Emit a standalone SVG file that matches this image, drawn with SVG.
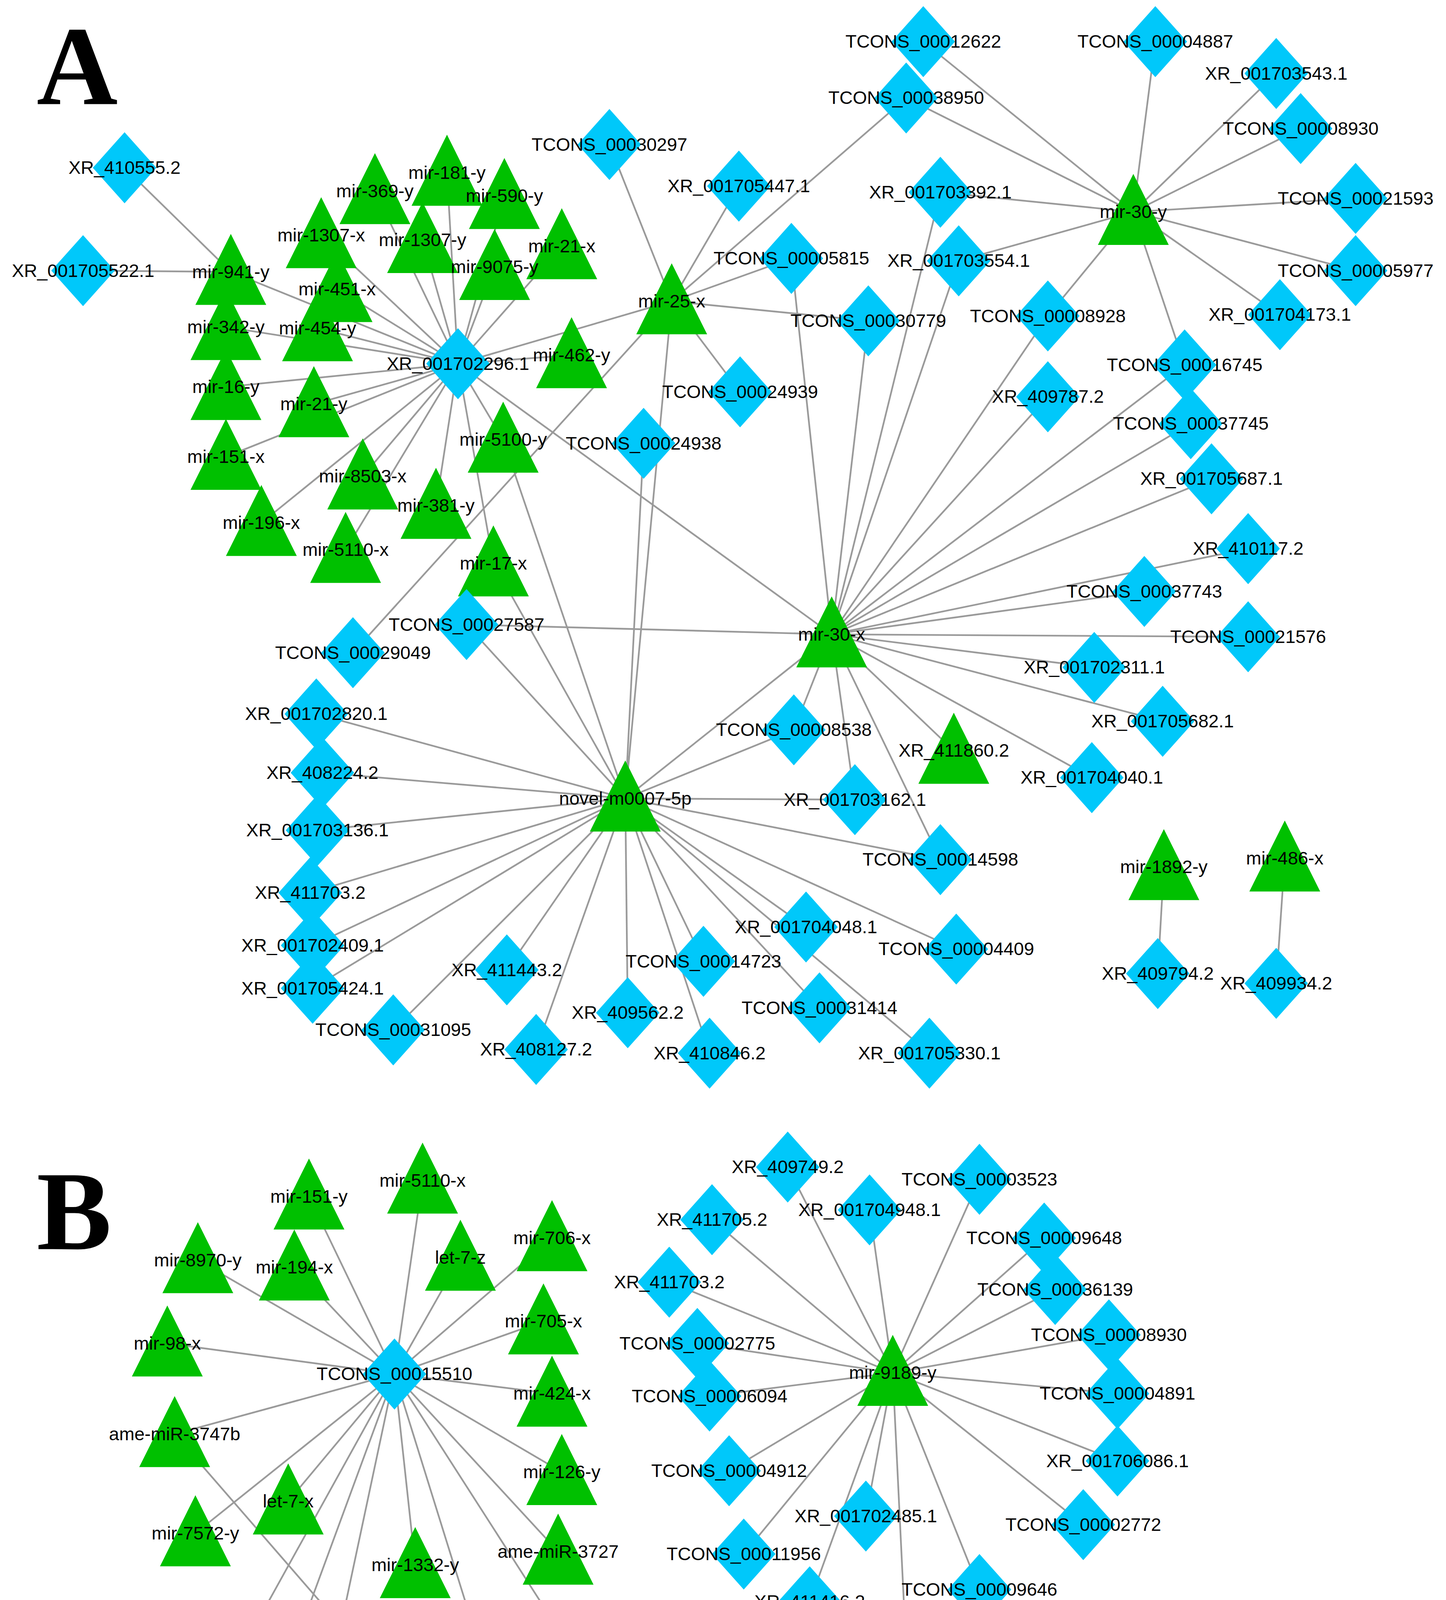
<svg xmlns="http://www.w3.org/2000/svg" width="3703" height="4916" viewBox="0 0 3703 4916">
<style>
.e line{stroke:#9a9a9a;stroke-width:1.4}
.d{fill:#00C8FA}
.t{fill:#00C000}
text{font-family:"Liberation Sans",Arial,sans-serif;font-size:15px;fill:#000;text-anchor:middle}
.big{font-family:"Liberation Serif","Times New Roman",serif;font-size:92px;font-weight:bold;text-anchor:start}
</style>
<defs>
<polygon id="tri" class="t" points="0,-31 -29,27 29,27"/>
<polygon id="dia" class="d" points="0,-29 26,0 0,29 -26,0"/>
</defs>
<rect width="3703" height="4916" fill="#fff"/>
<g transform="scale(3.1275 3.135)">
<text class="big" x="30" y="85">A</text>
<text class="big" x="30" y="1020">B</text>
<g class="e">
<line x1="102" y1="137" x2="189" y2="222"/><line x1="68" y1="221" x2="189" y2="222"/>
<line x1="375" y1="297" x2="189" y2="222"/><line x1="375" y1="297" x2="185" y2="267"/><line x1="375" y1="297" x2="185" y2="316"/><line x1="375" y1="297" x2="185" y2="373"/><line x1="375" y1="297" x2="214" y2="427"/><line x1="375" y1="297" x2="263" y2="192"/><line x1="375" y1="297" x2="307" y2="156"/><line x1="375" y1="297" x2="366" y2="141"/><line x1="375" y1="297" x2="413" y2="160"/><line x1="375" y1="297" x2="346" y2="196"/><line x1="375" y1="297" x2="405" y2="218"/><line x1="375" y1="297" x2="460" y2="201"/><line x1="375" y1="297" x2="276" y2="236"/><line x1="375" y1="297" x2="260" y2="268"/><line x1="375" y1="297" x2="257" y2="330"/><line x1="375" y1="297" x2="297" y2="389"/><line x1="375" y1="297" x2="283" y2="449"/><line x1="375" y1="297" x2="357" y2="413"/><line x1="375" y1="297" x2="412" y2="359"/><line x1="375" y1="297" x2="404" y2="460"/><line x1="375" y1="297" x2="468" y2="290"/><line x1="375" y1="297" x2="550" y2="246"/><line x1="375" y1="297" x2="681" y2="518"/>
<line x1="550" y1="246" x2="289" y2="533"/><line x1="412" y1="359" x2="512" y2="652"/>
<line x1="550" y1="246" x2="499" y2="118"/><line x1="550" y1="246" x2="605" y2="152"/><line x1="550" y1="246" x2="742" y2="80"/><line x1="550" y1="246" x2="648" y2="211"/><line x1="550" y1="246" x2="711" y2="262"/><line x1="550" y1="246" x2="606" y2="320"/><line x1="550" y1="246" x2="512" y2="652"/><line x1="527" y1="362" x2="512" y2="652"/>
<line x1="928" y1="173" x2="756" y2="34"/><line x1="928" y1="173" x2="946" y2="34"/><line x1="928" y1="173" x2="1045" y2="60"/><line x1="928" y1="173" x2="742" y2="80"/><line x1="928" y1="173" x2="1065" y2="105"/><line x1="928" y1="173" x2="1110" y2="162"/><line x1="928" y1="173" x2="770" y2="157"/><line x1="928" y1="173" x2="785" y2="213"/><line x1="928" y1="173" x2="1110" y2="221"/><line x1="928" y1="173" x2="1048" y2="257"/><line x1="928" y1="173" x2="970" y2="298"/><line x1="928" y1="173" x2="858" y2="258"/>
<line x1="681" y1="518" x2="858" y2="258"/><line x1="681" y1="518" x2="770" y2="157"/><line x1="681" y1="518" x2="785" y2="213"/><line x1="681" y1="518" x2="648" y2="211"/><line x1="681" y1="518" x2="711" y2="262"/><line x1="681" y1="518" x2="970" y2="298"/><line x1="681" y1="518" x2="858" y2="324"/><line x1="681" y1="518" x2="975" y2="346"/><line x1="681" y1="518" x2="992" y2="391"/><line x1="681" y1="518" x2="1022" y2="448"/><line x1="681" y1="518" x2="937" y2="483"/><line x1="681" y1="518" x2="1022" y2="520"/><line x1="681" y1="518" x2="896" y2="545"/><line x1="681" y1="518" x2="952" y2="589"/><line x1="681" y1="518" x2="894" y2="635"/><line x1="681" y1="518" x2="781" y2="613"/><line x1="681" y1="518" x2="770" y2="702"/><line x1="681" y1="518" x2="700" y2="653"/><line x1="681" y1="518" x2="650" y2="596"/><line x1="681" y1="518" x2="512" y2="652"/><line x1="681" y1="518" x2="382" y2="510"/>
<line x1="512" y1="652" x2="382" y2="510"/><line x1="512" y1="652" x2="404" y2="460"/><line x1="512" y1="652" x2="259" y2="583"/><line x1="512" y1="652" x2="264" y2="631"/><line x1="512" y1="652" x2="260" y2="678"/><line x1="512" y1="652" x2="254" y2="729"/><line x1="512" y1="652" x2="256" y2="772"/><line x1="512" y1="652" x2="256" y2="807"/><line x1="512" y1="652" x2="322" y2="841"/><line x1="512" y1="652" x2="415" y2="792"/><line x1="512" y1="652" x2="439" y2="857"/><line x1="512" y1="652" x2="514" y2="827"/><line x1="512" y1="652" x2="576" y2="785"/><line x1="512" y1="652" x2="581" y2="860"/><line x1="512" y1="652" x2="660" y2="757"/><line x1="512" y1="652" x2="671" y2="823"/><line x1="512" y1="652" x2="761" y2="860"/><line x1="512" y1="652" x2="783" y2="775"/><line x1="512" y1="652" x2="650" y2="596"/><line x1="512" y1="652" x2="700" y2="653"/><line x1="512" y1="652" x2="770" y2="702"/>
<line x1="953" y1="708" x2="948" y2="795"/><line x1="1052" y1="701" x2="1045" y2="803"/>
<line x1="323" y1="1122" x2="253" y2="977"/><line x1="323" y1="1122" x2="346" y2="964"/><line x1="323" y1="1122" x2="162" y2="1029"/><line x1="323" y1="1122" x2="241" y2="1035"/><line x1="323" y1="1122" x2="377" y2="1027"/><line x1="323" y1="1122" x2="452" y2="1011"/><line x1="323" y1="1122" x2="137" y2="1097"/><line x1="323" y1="1122" x2="445" y2="1079"/><line x1="323" y1="1122" x2="452" y2="1138"/><line x1="323" y1="1122" x2="143" y2="1171"/><line x1="323" y1="1122" x2="460" y2="1202"/><line x1="323" y1="1122" x2="236" y2="1226"/><line x1="323" y1="1122" x2="160" y2="1252"/><line x1="323" y1="1122" x2="457" y2="1267"/><line x1="323" y1="1122" x2="340" y2="1278"/><line x1="323" y1="1122" x2="397" y2="1359"/><line x1="323" y1="1122" x2="487" y2="1377"/><line x1="323" y1="1122" x2="249" y2="1469"/><line x1="323" y1="1122" x2="202" y2="1340"/><line x1="323" y1="1122" x2="216" y2="1412"/>
<line x1="378" y1="1441" x2="143" y2="1171"/><line x1="378" y1="1441" x2="202" y2="1340"/><line x1="378" y1="1441" x2="216" y2="1412"/><line x1="378" y1="1441" x2="249" y2="1469"/><line x1="378" y1="1441" x2="303" y2="1512"/><line x1="378" y1="1441" x2="403" y2="1522"/><line x1="378" y1="1441" x2="499" y2="1495"/><line x1="378" y1="1441" x2="538" y2="1446"/><line x1="378" y1="1441" x2="487" y2="1377"/><line x1="378" y1="1441" x2="397" y2="1359"/>
<line x1="731" y1="1121" x2="645" y2="953"/><line x1="731" y1="1121" x2="802" y2="963"/><line x1="731" y1="1121" x2="583" y2="996"/><line x1="731" y1="1121" x2="712" y2="988"/><line x1="731" y1="1121" x2="855" y2="1011"/><line x1="731" y1="1121" x2="548" y2="1047"/><line x1="731" y1="1121" x2="864" y2="1053"/><line x1="731" y1="1121" x2="571" y2="1097"/><line x1="731" y1="1121" x2="908" y2="1090"/><line x1="731" y1="1121" x2="581" y2="1140"/><line x1="731" y1="1121" x2="915" y2="1138"/><line x1="731" y1="1121" x2="597" y2="1201"/><line x1="731" y1="1121" x2="915" y2="1193"/><line x1="731" y1="1121" x2="709" y2="1238"/><line x1="731" y1="1121" x2="887" y2="1245"/><line x1="731" y1="1121" x2="609" y2="1269"/><line x1="731" y1="1121" x2="802" y2="1298"/><line x1="731" y1="1121" x2="663" y2="1308"/><line x1="731" y1="1121" x2="742" y2="1348"/>
<line x1="664" y1="1424" x2="662" y2="1529"/><line x1="795" y1="1424" x2="798" y2="1528"/>
</g>
<g id="n1" transform="translate(102,137)"><use href="#dia"/><text y="5">XR_410555.2</text></g>
<g id="n2" transform="translate(68,221)"><use href="#dia"/><text y="5">XR_001705522.1</text></g>
<g id="n3" transform="translate(189,222)"><use href="#tri"/><text y="5">mir-941-y</text></g>
<g id="n4" transform="translate(185,267)"><use href="#tri"/><text y="5">mir-342-y</text></g>
<g id="n5" transform="translate(185,316)"><use href="#tri"/><text y="5">mir-16-y</text></g>
<g id="n6" transform="translate(185,373)"><use href="#tri"/><text y="5">mir-151-x</text></g>
<g id="n7" transform="translate(214,427)"><use href="#tri"/><text y="5">mir-196-x</text></g>
<g id="n8" transform="translate(307,156)"><use href="#tri"/><text y="5">mir-369-y</text></g>
<g id="n9" transform="translate(366,141)"><use href="#tri"/><text y="5">mir-181-y</text></g>
<g id="n10" transform="translate(413,160)"><use href="#tri"/><text y="5">mir-590-y</text></g>
<g id="n11" transform="translate(263,192)"><use href="#tri"/><text y="5">mir-1307-x</text></g>
<g id="n12" transform="translate(346,196)"><use href="#tri"/><text y="5">mir-1307-y</text></g>
<g id="n13" transform="translate(460,201)"><use href="#tri"/><text y="5">mir-21-x</text></g>
<g id="n14" transform="translate(405,218)"><use href="#tri"/><text y="5">mir-9075-y</text></g>
<g id="n15" transform="translate(276,236)"><use href="#tri"/><text y="5">mir-451-x</text></g>
<g id="n16" transform="translate(260,268)"><use href="#tri"/><text y="5">mir-454-y</text></g>
<g id="n17" transform="translate(257,330)"><use href="#tri"/><text y="5">mir-21-y</text></g>
<g id="n18" transform="translate(468,290)"><use href="#tri"/><text y="5">mir-462-y</text></g>
<g id="n19" transform="translate(412,359)"><use href="#tri"/><text y="5">mir-5100-y</text></g>
<g id="n20" transform="translate(297,389)"><use href="#tri"/><text y="5">mir-8503-x</text></g>
<g id="n21" transform="translate(357,413)"><use href="#tri"/><text y="5">mir-381-y</text></g>
<g id="n22" transform="translate(283,449)"><use href="#tri"/><text y="5">mir-5110-x</text></g>
<g id="n23" transform="translate(404,460)"><use href="#tri"/><text y="5">mir-17-x</text></g>
<g id="n24" transform="translate(375,297)"><use href="#dia"/><text y="5">XR_001702296.1</text></g>
<g id="n25" transform="translate(499,118)"><use href="#dia"/><text y="5">TCONS_00030297</text></g>
<g id="n26" transform="translate(605,152)"><use href="#dia"/><text y="5">XR_001705447.1</text></g>
<g id="n27" transform="translate(550,246)"><use href="#tri"/><text y="5">mir-25-x</text></g>
<g id="n28" transform="translate(648,211)"><use href="#dia"/><text y="5">TCONS_00005815</text></g>
<g id="n29" transform="translate(711,262)"><use href="#dia"/><text y="5">TCONS_00030779</text></g>
<g id="n30" transform="translate(606,320)"><use href="#dia"/><text y="5">TCONS_00024939</text></g>
<g id="n31" transform="translate(527,362)"><use href="#dia"/><text y="5">TCONS_00024938</text></g>
<g id="n32" transform="translate(756,34)"><use href="#dia"/><text y="5">TCONS_00012622</text></g>
<g id="n33" transform="translate(946,34)"><use href="#dia"/><text y="5">TCONS_00004887</text></g>
<g id="n34" transform="translate(1045,60)"><use href="#dia"/><text y="5">XR_001703543.1</text></g>
<g id="n35" transform="translate(742,80)"><use href="#dia"/><text y="5">TCONS_00038950</text></g>
<g id="n36" transform="translate(1065,105)"><use href="#dia"/><text y="5">TCONS_00008930</text></g>
<g id="n37" transform="translate(1110,162)"><use href="#dia"/><text y="5">TCONS_00021593</text></g>
<g id="n38" transform="translate(770,157)"><use href="#dia"/><text y="5">XR_001703392.1</text></g>
<g id="n39" transform="translate(928,173)"><use href="#tri"/><text y="5">mir-30-y</text></g>
<g id="n40" transform="translate(785,213)"><use href="#dia"/><text y="5">XR_001703554.1</text></g>
<g id="n41" transform="translate(1110,221)"><use href="#dia"/><text y="5">TCONS_00005977</text></g>
<g id="n42" transform="translate(1048,257)"><use href="#dia"/><text y="5">XR_001704173.1</text></g>
<g id="n43" transform="translate(858,258)"><use href="#dia"/><text y="5">TCONS_00008928</text></g>
<g id="n44" transform="translate(970,298)"><use href="#dia"/><text y="5">TCONS_00016745</text></g>
<g id="n45" transform="translate(858,324)"><use href="#dia"/><text y="5">XR_409787.2</text></g>
<g id="n46" transform="translate(975,346)"><use href="#dia"/><text y="5">TCONS_00037745</text></g>
<g id="n47" transform="translate(992,391)"><use href="#dia"/><text y="5">XR_001705687.1</text></g>
<g id="n48" transform="translate(1022,448)"><use href="#dia"/><text y="5">XR_410117.2</text></g>
<g id="n49" transform="translate(937,483)"><use href="#dia"/><text y="5">TCONS_00037743</text></g>
<g id="n50" transform="translate(1022,520)"><use href="#dia"/><text y="5">TCONS_00021576</text></g>
<g id="n51" transform="translate(382,510)"><use href="#dia"/><text y="5">TCONS_00027587</text></g>
<g id="n52" transform="translate(681,518)"><use href="#tri"/><text y="5">mir-30-x</text></g>
<g id="n53" transform="translate(289,533)"><use href="#dia"/><text y="5">TCONS_00029049</text></g>
<g id="n54" transform="translate(896,545)"><use href="#dia"/><text y="5">XR_001702311.1</text></g>
<g id="n55" transform="translate(952,589)"><use href="#dia"/><text y="5">XR_001705682.1</text></g>
<g id="n56" transform="translate(894,635)"><use href="#dia"/><text y="5">XR_001704040.1</text></g>
<g id="n57" transform="translate(650,596)"><use href="#dia"/><text y="5">TCONS_00008538</text></g>
<g id="n58" transform="translate(781,613)"><use href="#tri"/><text y="5">XR_411860.2</text></g>
<g id="n59" transform="translate(700,653)"><use href="#dia"/><text y="5">XR_001703162.1</text></g>
<g id="n60" transform="translate(770,702)"><use href="#dia"/><text y="5">TCONS_00014598</text></g>
<g id="n61" transform="translate(259,583)"><use href="#dia"/><text y="5">XR_001702820.1</text></g>
<g id="n62" transform="translate(264,631)"><use href="#dia"/><text y="5">XR_408224.2</text></g>
<g id="n63" transform="translate(512,652)"><use href="#tri"/><text y="5">novel-m0007-5p</text></g>
<g id="n64" transform="translate(260,678)"><use href="#dia"/><text y="5">XR_001703136.1</text></g>
<g id="n65" transform="translate(254,729)"><use href="#dia"/><text y="5">XR_411703.2</text></g>
<g id="n66" transform="translate(256,772)"><use href="#dia"/><text y="5">XR_001702409.1</text></g>
<g id="n67" transform="translate(256,807)"><use href="#dia"/><text y="5">XR_001705424.1</text></g>
<g id="n68" transform="translate(322,841)"><use href="#dia"/><text y="5">TCONS_00031095</text></g>
<g id="n69" transform="translate(415,792)"><use href="#dia"/><text y="5">XR_411443.2</text></g>
<g id="n70" transform="translate(439,857)"><use href="#dia"/><text y="5">XR_408127.2</text></g>
<g id="n71" transform="translate(514,827)"><use href="#dia"/><text y="5">XR_409562.2</text></g>
<g id="n72" transform="translate(576,785)"><use href="#dia"/><text y="5">TCONS_00014723</text></g>
<g id="n73" transform="translate(581,860)"><use href="#dia"/><text y="5">XR_410846.2</text></g>
<g id="n74" transform="translate(660,757)"><use href="#dia"/><text y="5">XR_001704048.1</text></g>
<g id="n75" transform="translate(671,823)"><use href="#dia"/><text y="5">TCONS_00031414</text></g>
<g id="n76" transform="translate(761,860)"><use href="#dia"/><text y="5">XR_001705330.1</text></g>
<g id="n77" transform="translate(783,775)"><use href="#dia"/><text y="5">TCONS_00004409</text></g>
<g id="n78" transform="translate(953,708)"><use href="#tri"/><text y="5">mir-1892-y</text></g>
<g id="n79" transform="translate(948,795)"><use href="#dia"/><text y="5">XR_409794.2</text></g>
<g id="n80" transform="translate(1052,701)"><use href="#tri"/><text y="5">mir-486-x</text></g>
<g id="n81" transform="translate(1045,803)"><use href="#dia"/><text y="5">XR_409934.2</text></g>
<g id="b1" transform="translate(253,977)"><use href="#tri"/><text y="5">mir-151-y</text></g>
<g id="b2" transform="translate(346,964)"><use href="#tri"/><text y="5">mir-5110-x</text></g>
<g id="b3" transform="translate(162,1029)"><use href="#tri"/><text y="5">mir-8970-y</text></g>
<g id="b4" transform="translate(241,1035)"><use href="#tri"/><text y="5">mir-194-x</text></g>
<g id="b5" transform="translate(377,1027)"><use href="#tri"/><text y="5">let-7-z</text></g>
<g id="b6" transform="translate(452,1011)"><use href="#tri"/><text y="5">mir-706-x</text></g>
<g id="b7" transform="translate(137,1097)"><use href="#tri"/><text y="5">mir-98-x</text></g>
<g id="b8" transform="translate(445,1079)"><use href="#tri"/><text y="5">mir-705-x</text></g>
<g id="b9" transform="translate(452,1138)"><use href="#tri"/><text y="5">mir-424-x</text></g>
<g id="b10" transform="translate(143,1171)"><use href="#tri"/><text y="5">ame-miR-3747b</text></g>
<g id="b11" transform="translate(460,1202)"><use href="#tri"/><text y="5">mir-126-y</text></g>
<g id="b12" transform="translate(236,1226)"><use href="#tri"/><text y="5">let-7-x</text></g>
<g id="b13" transform="translate(160,1252)"><use href="#tri"/><text y="5">mir-7572-y</text></g>
<g id="b14" transform="translate(457,1267)"><use href="#tri"/><text y="5">ame-miR-3727</text></g>
<g id="b15" transform="translate(340,1278)"><use href="#tri"/><text y="5">mir-1332-y</text></g>
<g id="b16" transform="translate(202,1340)"><use href="#tri"/><text y="5">mir-2946-y</text></g>
<g id="b17" transform="translate(397,1359)"><use href="#tri"/><text y="5">mir-8109-x</text></g>
<g id="b18" transform="translate(487,1377)"><use href="#tri"/><text y="5">mir-462-x</text></g>
<g id="b19" transform="translate(216,1412)"><use href="#tri"/><text y="5">mir-144-x</text></g>
<g id="b20" transform="translate(538,1446)"><use href="#tri"/><text y="5">mir-7114-y</text></g>
<g id="b21" transform="translate(249,1469)"><use href="#tri"/><text y="5">mir-8117-y</text></g>
<g id="b22" transform="translate(499,1495)"><use href="#tri"/><text y="5">mir-2388-y</text></g>
<g id="b23" transform="translate(303,1512)"><use href="#tri"/><text y="5">mir-451-x</text></g>
<g id="b24" transform="translate(403,1522)"><use href="#tri"/><text y="5">mir-200-y</text></g>
<g id="b25" transform="translate(323,1122)"><use href="#dia"/><text y="5">TCONS_00015510</text></g>
<g id="b26" transform="translate(378,1441)"><use href="#dia"/><text y="5">XR_412201.2</text></g>
<g id="b27" transform="translate(645,953)"><use href="#dia"/><text y="5">XR_409749.2</text></g>
<g id="b28" transform="translate(802,963)"><use href="#dia"/><text y="5">TCONS_00003523</text></g>
<g id="b29" transform="translate(583,996)"><use href="#dia"/><text y="5">XR_411705.2</text></g>
<g id="b30" transform="translate(712,988)"><use href="#dia"/><text y="5">XR_001704948.1</text></g>
<g id="b31" transform="translate(855,1011)"><use href="#dia"/><text y="5">TCONS_00009648</text></g>
<g id="b32" transform="translate(548,1047)"><use href="#dia"/><text y="5">XR_411703.2</text></g>
<g id="b33" transform="translate(864,1053)"><use href="#dia"/><text y="5">TCONS_00036139</text></g>
<g id="b34" transform="translate(571,1097)"><use href="#dia"/><text y="5">TCONS_00002775</text></g>
<g id="b35" transform="translate(908,1090)"><use href="#dia"/><text y="5">TCONS_00008930</text></g>
<g id="b36" transform="translate(731,1121)"><use href="#tri"/><text y="5">mir-9189-y</text></g>
<g id="b37" transform="translate(581,1140)"><use href="#dia"/><text y="5">TCONS_00006094</text></g>
<g id="b38" transform="translate(915,1138)"><use href="#dia"/><text y="5">TCONS_00004891</text></g>
<g id="b39" transform="translate(597,1201)"><use href="#dia"/><text y="5">TCONS_00004912</text></g>
<g id="b40" transform="translate(915,1193)"><use href="#dia"/><text y="5">XR_001706086.1</text></g>
<g id="b41" transform="translate(709,1238)"><use href="#dia"/><text y="5">XR_001702485.1</text></g>
<g id="b42" transform="translate(887,1245)"><use href="#dia"/><text y="5">TCONS_00002772</text></g>
<g id="b43" transform="translate(609,1269)"><use href="#dia"/><text y="5">TCONS_00011956</text></g>
<g id="b44" transform="translate(802,1298)"><use href="#dia"/><text y="5">TCONS_00009646</text></g>
<g id="b45" transform="translate(663,1308)"><use href="#dia"/><text y="5">XR_411416.2</text></g>
<g id="b46" transform="translate(742,1348)"><use href="#dia"/><text y="5">TCONS_00001342</text></g>
<g id="b47" transform="translate(664,1424)"><use href="#dia"/><text y="5">XR_412502.2</text></g>
<g id="b48" transform="translate(662,1529)"><use href="#tri"/><text y="5">mir-3232-x</text></g>
<g id="b49" transform="translate(795,1424)"><use href="#dia"/><text y="5">XR_409610.2</text></g>
<g id="b50" transform="translate(798,1528)"><use href="#tri"/><text y="5">mir-182-x</text></g>
</g>
</svg>
